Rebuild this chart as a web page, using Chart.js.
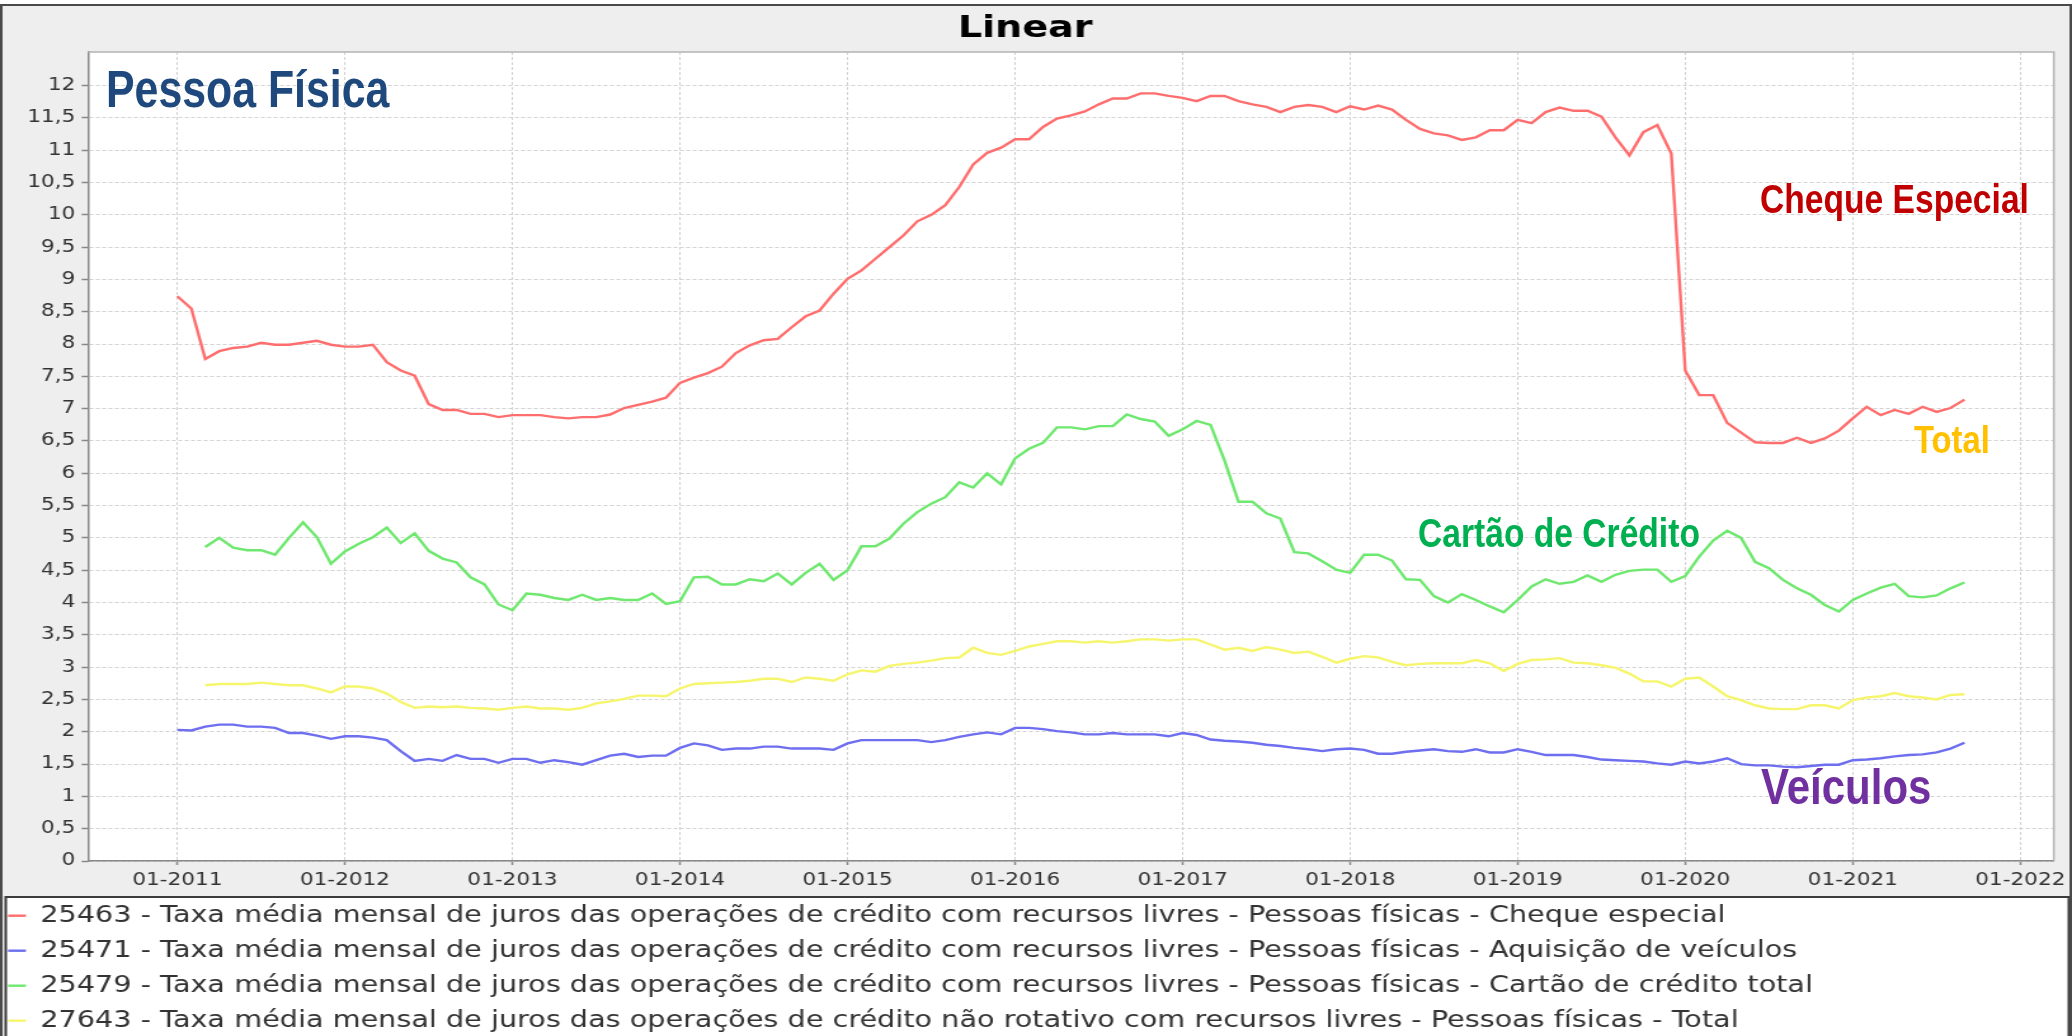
<!DOCTYPE html>
<html lang="pt-BR">
<head>
<meta charset="utf-8">
<title>Linear - Pessoa Física</title>
<script src="https://cdn.jsdelivr.net/npm/chart.js@4.4.1/dist/chart.umd.min.js"></script>
<style>
    html, body { margin: 0; padding: 0; background: #fff; overflow: hidden; }
    #wrap { position: relative; width: 2072px; height: 1036px; }
    /* o grafico original foi esticado na horizontal: desenho em 1632 px e estico para 2072 */
    #chart { display: block; width: 2072px; height: 1036px; }
    .nota { position: absolute; font-family: "Liberation Sans", Arial, sans-serif; font-weight: bold;
            line-height: 1; white-space: nowrap; transform-origin: 0 0; transform: scaleX(0.84); }
</style>
</head>
<body>
<div id="wrap">
    <canvas id="chart" width="1632" height="1036" style="width:2072px;height:1036px"></canvas>
    <div class="nota" style="left:106px;top:64px;font-size:51px;color:#1f497d">Pessoa Física</div>
    <div class="nota" style="left:1760px;top:179px;font-size:40px;color:#c00000">Cheque Especial</div>
    <div class="nota" style="left:1914px;top:420px;font-size:39px;color:#ffc000">Total</div>
    <div class="nota" style="left:1418px;top:513px;font-size:40px;color:#00b050">Cartão de Crédito</div>
    <div class="nota" style="left:1761px;top:762px;font-size:50px;color:#7030a0">Veículos</div>
</div>
<script>
// meses contados a partir de 01-2011 (0 = jan/2011)
var yearTicks = [0, 12, 24, 36, 48, 60, 72, 84, 96, 108, 120, 132];
var valueTicks = [0, 0.5, 1, 1.5, 2, 2.5, 3, 3.5, 4, 4.5, 5, 5.5, 6, 6.5, 7, 7.5, 8, 8.5, 9, 9.5, 10, 10.5, 11, 11.5, 12];

var seriesLabels = [
    '25463 - Taxa média mensal de juros das operações de crédito com recursos livres - Pessoas físicas - Cheque especial',
    '25471 - Taxa média mensal de juros das operações de crédito com recursos livres - Pessoas físicas - Aquisição de veículos',
    '25479 - Taxa média mensal de juros das operações de crédito com recursos livres - Pessoas físicas - Cartão de crédito total',
    '27643 - Taxa média mensal de juros das operações de crédito não rotativo com recursos livres - Pessoas físicas - Total'
];

// 01-2011 .. 09-2021
var chequeEspecial = [
    8.74, 8.55, 7.77, 7.89, 7.94, 7.96, 8.02, 7.99, 7.99, 8.02,
    8.05, 7.99, 7.96, 7.96, 7.99, 7.72, 7.59, 7.51, 7.07, 6.98,
    6.98, 6.92, 6.92, 6.87, 6.90, 6.90, 6.90, 6.87, 6.85, 6.87,
    6.87, 6.91, 7.01, 7.06, 7.11, 7.17, 7.40, 7.48, 7.55, 7.65,
    7.86, 7.98, 8.06, 8.08, 8.26, 8.43, 8.52, 8.78, 9.01, 9.14,
    9.32, 9.50, 9.68, 9.90, 10.00, 10.15, 10.43, 10.78, 10.96, 11.04,
    11.17, 11.17, 11.36, 11.49, 11.54, 11.60, 11.71, 11.80, 11.80, 11.88,
    11.88, 11.84, 11.81, 11.76, 11.84, 11.84, 11.76, 11.71, 11.67, 11.59,
    11.67, 11.70, 11.67, 11.59, 11.68, 11.63, 11.69, 11.63, 11.47, 11.33,
    11.26, 11.23, 11.16, 11.20, 11.31, 11.31, 11.47, 11.42, 11.59, 11.66,
    11.61, 11.61, 11.52, 11.20, 10.92, 11.28, 11.39, 10.95, 7.59, 7.21,
    7.21, 6.78, 6.63, 6.48, 6.47, 6.47, 6.55, 6.47, 6.54, 6.66,
    6.85, 7.03, 6.90, 6.98, 6.92, 7.03, 6.95, 7.01, 7.14
];

// 01-2011 .. 09-2021
var veiculos = [
    2.03, 2.02, 2.08, 2.11, 2.11, 2.08, 2.08, 2.06, 1.98, 1.98,
    1.94, 1.89, 1.93, 1.93, 1.91, 1.87, 1.70, 1.55, 1.58, 1.55,
    1.64, 1.58, 1.58, 1.52, 1.58, 1.58, 1.52, 1.56, 1.53, 1.49,
    1.56, 1.63, 1.66, 1.61, 1.63, 1.63, 1.75, 1.82, 1.79, 1.72,
    1.74, 1.74, 1.77, 1.77, 1.74, 1.74, 1.74, 1.72, 1.82, 1.87,
    1.87, 1.87, 1.87, 1.87, 1.84, 1.87, 1.92, 1.96, 1.99, 1.96,
    2.06, 2.06, 2.04, 2.01, 1.99, 1.96, 1.96, 1.98, 1.96, 1.96,
    1.96, 1.93, 1.98, 1.95, 1.88, 1.86, 1.85, 1.83, 1.80, 1.78,
    1.75, 1.73, 1.70, 1.73, 1.74, 1.72, 1.66, 1.66, 1.69, 1.71,
    1.73, 1.70, 1.69, 1.73, 1.68, 1.68, 1.73, 1.69, 1.64, 1.64,
    1.64, 1.61, 1.57, 1.56, 1.55, 1.54, 1.51, 1.49, 1.54, 1.51,
    1.54, 1.59, 1.50, 1.48, 1.48, 1.46, 1.45, 1.47, 1.49, 1.49,
    1.56, 1.57, 1.59, 1.62, 1.64, 1.65, 1.68, 1.74, 1.83
];

// 03-2011 .. 09-2021
var cartaoCredito = [
    4.86, 5.00, 4.85, 4.81, 4.81, 4.74, 5.00, 5.24,
    5.01, 4.60, 4.79, 4.91, 5.01, 5.16, 4.92, 5.07, 4.80, 4.68,
    4.62, 4.39, 4.28, 3.97, 3.88, 4.14, 4.12, 4.07, 4.04, 4.12,
    4.04, 4.07, 4.04, 4.04, 4.14, 3.98, 4.02, 4.39, 4.40, 4.28,
    4.28, 4.36, 4.33, 4.45, 4.28, 4.46, 4.60, 4.35, 4.50, 4.87,
    4.87, 4.99, 5.22, 5.40, 5.53, 5.63, 5.86, 5.78, 6.00, 5.83,
    6.23, 6.38, 6.47, 6.71, 6.71, 6.68, 6.73, 6.73, 6.91, 6.84,
    6.80, 6.58, 6.68, 6.81, 6.75, 6.20, 5.56, 5.56, 5.38, 5.30,
    4.78, 4.76, 4.64, 4.51, 4.46, 4.74, 4.74, 4.65, 4.36, 4.35,
    4.10, 4.00, 4.13, 4.04, 3.94, 3.85, 4.04, 4.25, 4.36, 4.29,
    4.32, 4.42, 4.32, 4.43, 4.49, 4.51, 4.51, 4.32, 4.41, 4.71,
    4.96, 5.11, 5.00, 4.63, 4.53, 4.35, 4.22, 4.12, 3.96, 3.86,
    4.04, 4.14, 4.23, 4.29, 4.10, 4.08, 4.11, 4.22, 4.31
];

// 03-2011 .. 09-2021
var totalNaoRotativo = [
    2.72, 2.74, 2.74, 2.74, 2.76, 2.74, 2.72, 2.72,
    2.67, 2.61, 2.70, 2.70, 2.67, 2.59, 2.46, 2.37, 2.39, 2.38,
    2.39, 2.37, 2.36, 2.34, 2.37, 2.39, 2.36, 2.36, 2.34, 2.37,
    2.44, 2.47, 2.51, 2.56, 2.56, 2.55, 2.67, 2.74, 2.75, 2.76,
    2.77, 2.79, 2.82, 2.82, 2.77, 2.84, 2.82, 2.79, 2.89, 2.95,
    2.93, 3.02, 3.05, 3.07, 3.10, 3.14, 3.15, 3.30, 3.22, 3.19,
    3.25, 3.32, 3.36, 3.40, 3.40, 3.38, 3.40, 3.38, 3.40, 3.43,
    3.43, 3.41, 3.43, 3.43, 3.35, 3.27, 3.30, 3.25, 3.31, 3.27,
    3.22, 3.24, 3.16, 3.07, 3.13, 3.17, 3.15, 3.08, 3.03, 3.05,
    3.06, 3.06, 3.06, 3.11, 3.06, 2.94, 3.05, 3.11, 3.12, 3.14,
    3.07, 3.06, 3.03, 2.99, 2.90, 2.78, 2.78, 2.70, 2.82, 2.84,
    2.70, 2.55, 2.49, 2.41, 2.36, 2.35, 2.35, 2.41, 2.41, 2.36,
    2.49, 2.53, 2.55, 2.60, 2.55, 2.53, 2.50, 2.57, 2.58
];

// mes inicial de cada serie
var seriesStart = [0, 0, 2, 2];
var seriesColors = ['#ff6e6e', '#6e6ef0', '#6ee86e', '#f6f66e'];

function toPoints(values, start) {
    return values.map(function(v, i) { return { x: start + i, y: v }; });
}

var allValues = [chequeEspecial, veiculos, cartaoCredito, totalNaoRotativo];
var datasets = allValues.map(function(values, i) {
    return {
        label: seriesLabels[i],
        data: toPoints(values, seriesStart[i]),
        borderColor: seriesColors[i],
        backgroundColor: seriesColors[i],
        borderWidth: 2.4,
        pointRadius: 0,
        tension: 0,
        fill: false
    };
});

// fundo, moldura e caixa da legenda
var moldura = {
    id: 'moldura',
    beforeDraw: function(chart) {
        var ctx = chart.ctx, a = chart.chartArea, w = chart.width, h = chart.height;
        var lg = chart.legend;
        ctx.save();
        ctx.fillStyle = '#ffffff';
        ctx.fillRect(0, 0, w, h);
        ctx.fillStyle = '#eeeeee';
        ctx.fillRect(1, 5, w - 2, h - 5);
        ctx.fillStyle = '#ffffff';
        ctx.fillRect(a.left, a.top, a.right - a.left, a.bottom - a.top);
        ctx.fillRect(4.5, lg.top + 5, w - 7, h);
        ctx.strokeStyle = '#3c3c3c';
        ctx.lineWidth = 2;
        ctx.strokeRect(4.5, lg.top + 5, w - 7, h);
        ctx.restore();
    },
    beforeDatasetsDraw: function(chart) {
        var ctx = chart.ctx, a = chart.chartArea;
        ctx.save();
        ctx.strokeStyle = '#b4b4b4';
        ctx.lineWidth = 1.5;
        ctx.beginPath();
        ctx.moveTo(a.left, a.top);
        ctx.lineTo(a.right, a.top);
        ctx.lineTo(a.right, a.bottom);
        ctx.stroke();
        ctx.restore();
    },
    afterDraw: function(chart) {
        var ctx = chart.ctx;
        ctx.save();
        ctx.strokeStyle = '#4a4a4a';
        ctx.lineWidth = 2;
        ctx.strokeRect(1, 5, chart.width - 2, chart.height - 4);
        ctx.restore();
    }
};

Chart.defaults.font.family = 'DejaVu Sans';

var gridOpts = { color: '#d2d2d2', lineWidth: 1, tickColor: '#888888', tickWidth: 1.5, tickBorderDash: [] };

new Chart(document.getElementById('chart'), {
    type: 'line',
    data: { datasets: datasets },
    options: {
        responsive: false,
        devicePixelRatio: 1,
        animation: false,
        events: [],
        // a esquerda negativa so empurra a legenda; o eixo y compensa na largura
        layout: { padding: { left: -6, right: 11, top: 0, bottom: -6 } },
        plugins: {
            title: {
                display: true,
                text: 'Linear',
                color: '#000000',
                font: { size: 30, weight: 'bold' },
                padding: { top: 11, bottom: 5 }
            },
            legend: {
                position: 'bottom',
                align: 'start',
                labels: {
                    color: '#333333',
                    font: { size: 22.6 },
                    padding: 12.4,
                    usePointStyle: true,
                    pointStyle: 'line',
                    pointStyleWidth: 14
                }
            },
            tooltip: { enabled: false }
        },
        scales: {
            x: {
                type: 'linear',
                min: -6.4,
                max: 134.4,
                afterBuildTicks: function(axis) {
                    axis.ticks = yearTicks.map(function(v) { return { value: v }; });
                },
                afterFit: function(axis) { axis.height = 31; },
                ticks: {
                    autoSkip: false,
                    maxRotation: 0,
                    padding: 5,
                    color: '#333333',
                    font: { size: 17 },
                    callback: function(value) { return '01-' + (2011 + value / 12); }
                },
                grid: Object.assign({ tickLength: 4 }, gridOpts),
                border: { color: '#888888', width: 1.5, dash: [3, 2] }
            },
            y: {
                min: 0,
                max: 12.52,
                afterBuildTicks: function(axis) {
                    axis.ticks = valueTicks.map(function(v) { return { value: v }; });
                },
                afterFit: function(axis) { axis.width = 75.3; },
                ticks: {
                    autoSkip: false,
                    padding: 5,
                    color: '#333333',
                    font: { size: 17 },
                    callback: function(value) { return String(value).replace('.', ','); }
                },
                grid: Object.assign({ tickLength: 5 }, gridOpts),
                border: { color: '#888888', width: 1.5, dash: [3, 2] }
            }
        }
    },
    plugins: [moldura]
});
</script>
</body>
</html>
